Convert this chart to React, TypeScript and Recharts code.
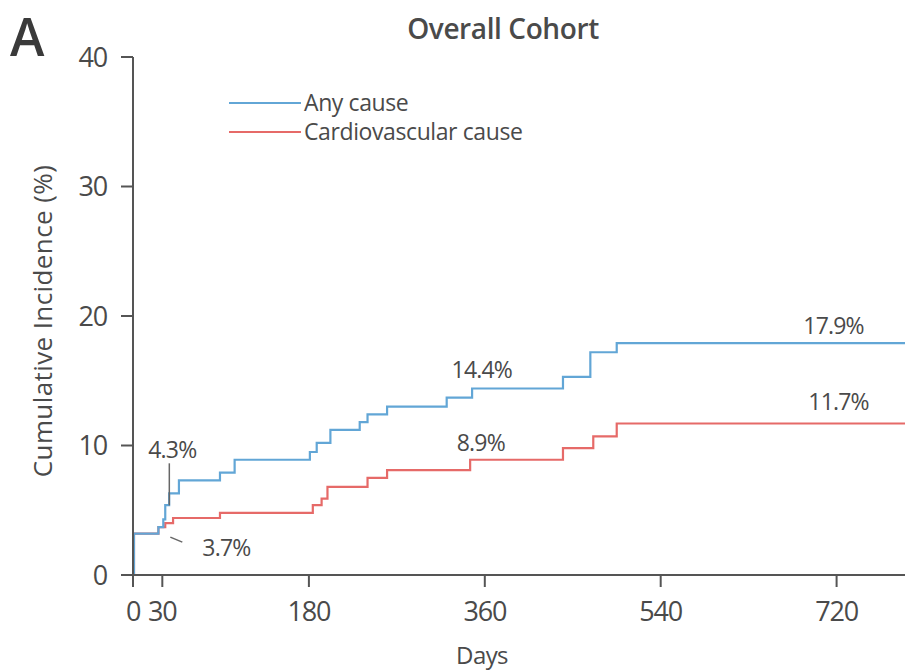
import { LineChart, Line, XAxis, YAxis, ReferenceDot } from 'recharts';

// step points: day at which the curve jumps, value after the jump (%)
const anyCauseDays = [0, 1, 26, 31, 33, 37, 47, 89, 104, 181, 188, 202, 232, 240, 260, 321, 347, 440, 468, 495, 790];
const anyCauseValues = [0, 3.2, 3.7, 4.3, 5.4, 6.3, 7.3, 7.9, 8.9, 9.5, 10.2, 11.2, 11.8, 12.4, 13.0, 13.7, 14.4, 15.3, 17.2, 17.9, 17.9];

const cvCauseDays = [0, 1, 26, 33, 41, 89, 184, 193, 199, 240, 260, 345, 440, 471, 495, 790];
const cvCauseValues = [0, 3.2, 3.7, 4.0, 4.4, 4.8, 5.4, 5.9, 6.8, 7.5, 8.1, 8.9, 9.8, 10.7, 11.7, 11.7];

const xTicks = [0, 30, 180, 360, 540, 720];
const yTicks = [0, 10, 20, 30, 40];

const seriesNames = ['Any cause', 'Cardiovascular cause'];

const noteDays = [30, 30, 360, 360, 720, 720];
const noteValues = [4.3, 3.7, 14.4, 8.9, 17.9, 11.7];
const noteTexts = ['4.3%', '3.7%', '14.4%', '8.9%', '17.9%', '11.7%'];

const BLUE = '#62a6d6';
const RED = '#e66a68';
const AXIS = '#555555';
const TEXT = '#4a4a4a';
const FONT = '"Open Sans", "Noto Sans", sans-serif';

// label offsets (px) from the annotated point, plus optional leader lines
const NOTE_STYLE = [
  { dx: 10, dy: -70, anchor: 'middle', leader: [7, -56, 7, -14] },
  { dx: 40, dy: 20, anchor: 'start', leader: [8, 10, 20, 15] },
  { dx: -3, dy: -20, anchor: 'middle' },
  { dx: -4, dy: -18, anchor: 'middle' },
  { dx: -3, dy: -18, anchor: 'middle' },
  { dx: 2, dy: -22, anchor: 'middle' },
];

const anyCause = anyCauseDays.map((day, i) => ({ day, value: anyCauseValues[i] }));
const cvCause = cvCauseDays.map((day, i) => ({ day, value: cvCauseValues[i] }));

function LegendBox() {
  const colors = [BLUE, RED];
  return (
    <div
      style={{
        position: 'absolute',
        left: 229,
        top: 88,
        fontFamily: FONT,
        fontSize: 23,
        color: TEXT,
        zIndex: 2,
      }}
    >
      {seriesNames.map((name, i) => (
        <div key={name} style={{ display: 'flex', alignItems: 'center', height: 29 }}>
          <svg width={72} height={4} style={{ marginRight: 3 }}>
            <line x1={0} y1={2} x2={72} y2={2} stroke={colors[i]} strokeWidth={2} />
          </svg>
          <span style={{ letterSpacing: -0.4, lineHeight: '29px' }}>{name}</span>
        </div>
      ))}
    </div>
  );
}

function noteShape(i: number) {
  const s = NOTE_STYLE[i];
  return (props: any) => {
    const { cx, cy } = props;
    return (
      <g>
        {s.leader && (
          <line
            x1={cx + s.leader[0]}
            y1={cy + s.leader[1]}
            x2={cx + s.leader[2]}
            y2={cy + s.leader[3]}
            stroke="#666"
            strokeWidth={1.5}
          />
        )}
        <text
          x={cx + s.dx}
          y={cy + s.dy}
          textAnchor={s.anchor as any}
          dominantBaseline="central"
          fontFamily={FONT}
          fontSize={23}
          fill={TEXT}
          letterSpacing={-0.8}
        >
          {noteTexts[i]}
        </text>
      </g>
    );
  };
}

export default function App() {
  return (
    <div style={{ position: 'absolute', left: 0, top: 0, width: 905, height: 671, background: '#fff' }}>
      <div
        style={{
          position: 'absolute',
          left: 10,
          top: 0,
          fontFamily: FONT,
          fontSize: 52,
          fontWeight: 600,
          color: '#3a3a3a',
          lineHeight: 'normal',
        }}
      >
        A
      </div>
      <div
        style={{
          position: 'absolute',
          left: 0,
          width: 1006,
          top: 8,
          textAlign: 'center',
          fontFamily: FONT,
          fontSize: 28,
          fontWeight: 600,
          color: TEXT,
          lineHeight: '40px',
          letterSpacing: -0.4,
        }}
      >
        Overall Cohort
      </div>
      <LegendBox />
      <LineChart width={905} height={671} margin={{ top: 57, right: 0, bottom: 0, left: 0 }}>
        <XAxis
          dataKey="day"
          type="number"
          domain={[0, 790]}
          ticks={xTicks}
          allowDataOverflow
          height={96}
          tickSize={12}
          tickMargin={15}
          stroke={AXIS}
          strokeWidth={2}
          tick={{ fill: TEXT, fontSize: 27, fontFamily: FONT, letterSpacing: -1.2 }}
          label={{
            content: (p: any) => (
              <text
                x={p.viewBox.x + 349}
                y={p.viewBox.y + 79}
                textAnchor="middle"
                dominantBaseline="central"
                fontFamily={FONT}
                fontSize={24}
                fill={TEXT}
                letterSpacing={-0.6}
              >
                Days
              </text>
            ),
          }}
        />
        <YAxis
          type="number"
          domain={[0, 40]}
          ticks={yTicks}
          width={133}
          tickSize={12}
          tickMargin={14}
          stroke={AXIS}
          strokeWidth={2}
          tick={{ fill: TEXT, fontSize: 27, fontFamily: FONT, letterSpacing: -1.2 }}
          label={{
            content: (p: any) => {
              const x = 42;
              const y = p.viewBox.y + p.viewBox.height / 2 + 5;
              return (
                <text
                  x={x}
                  y={y}
                  transform={`rotate(-90, ${x}, ${y})`}
                  textAnchor="middle"
                  dominantBaseline="central"
                  fontFamily={FONT}
                  fontSize={26}
                  fill={TEXT}
                  letterSpacing={0.4}
                >
                  Cumulative Incidence (%)
                </text>
              );
            },
          }}
        />
        <Line
          data={cvCause}
          dataKey="value"
          name={seriesNames[1]}
          type="stepAfter"
          stroke={RED}
          strokeWidth={2.2}
          dot={false}
          isAnimationActive={false}
        />
        <Line
          data={anyCause}
          dataKey="value"
          name={seriesNames[0]}
          type="stepAfter"
          stroke={BLUE}
          strokeWidth={2.2}
          dot={false}
          isAnimationActive={false}
        />
        {noteTexts.map((t, i) => (
          <ReferenceDot
            key={t}
            x={noteDays[i]}
            y={noteValues[i]}
            r={0}
            ifOverflow="visible"
            shape={noteShape(i)}
          />
        ))}
      </LineChart>
    </div>
  );
}
